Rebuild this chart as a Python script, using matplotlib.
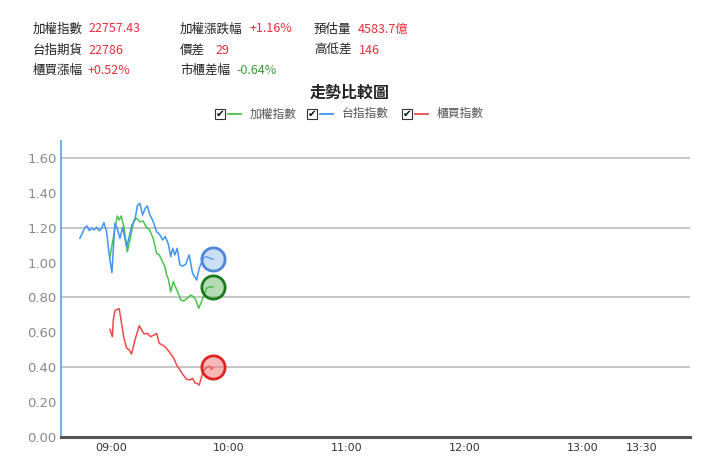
import matplotlib
matplotlib.use("Agg")
import matplotlib.pyplot as plt
from matplotlib.patches import Rectangle
from matplotlib.lines import Line2D

plt.rcParams['font.family'] = ['Noto Sans CJK TC', 'DejaVu Sans']

# ---------------- data ----------------
# minutes from 09:00
blue_t = [-15.8, -13.2, -12.1, -11.0, -9.8, -8.6, -7.3, -5.9, -4.7, -3.6, -2.2, -0.9, 0.5, 2.0, 3.2,
          4.6, 5.9, 8.0, 9.3, 10.7, 12.2, 13.4, 14.7, 16.1, 17.4, 18.5, 19.8, 21.2, 23.2, 24.6,
          26.3, 27.6, 29.1, 30.4, 31.4, 32.5, 33.7, 35.1, 36.5, 38.1, 39.8, 41.5, 43.6, 44.9,
          46.9, 48.7, 50.3, 52.0]
blue_v = [1.139, 1.202, 1.21, 1.183, 1.197, 1.187, 1.202, 1.183, 1.197, 1.229, 1.177, 1.044, 0.942,
          1.225, 1.197, 1.139, 1.202, 1.091, 1.149, 1.216, 1.244, 1.325, 1.34, 1.273, 1.311, 1.325,
          1.273, 1.244, 1.177, 1.164, 1.13, 1.149, 1.11, 1.034, 1.082, 1.044, 1.082, 0.986, 0.98,
          0.992, 1.044, 0.939, 0.90, 0.967, 1.025, 1.034, 1.025, 1.02]

green_t = [-0.5, 3.2, 4.2, 5.2, 6.6, 8.3, 10.0, 11.7, 13.1, 14.7, 16.4, 18.2, 19.5, 21.5, 23.2,
           24.6, 25.8, 27.5, 28.3, 29.1, 30.4, 31.7, 33.1, 34.2, 35.4, 37.1, 38.8, 40.5, 41.9,
           43.2, 44.6, 46.1, 47.3, 48.7, 50.3, 52.0]
green_v = [1.034, 1.267, 1.244, 1.267, 1.206, 1.062, 1.149, 1.244, 1.254, 1.234, 1.238, 1.197,
           1.191, 1.139, 1.053, 1.044, 1.015, 0.977, 0.929, 0.91, 0.833, 0.891, 0.853, 0.824,
           0.786, 0.78, 0.795, 0.814, 0.805, 0.786, 0.738, 0.776, 0.814, 0.853, 0.862, 0.86]

red_t = [-0.5, 0.7, 1.2, 2.0, 3.2, 4.2, 5.4, 6.6, 8.0, 9.3, 10.5, 12.2, 14.4, 15.6, 16.8, 18.5,
         20.2, 21.9, 23.2, 24.6, 27.5, 29.6, 32.0, 33.4, 35.1, 36.8, 38.5, 40.2, 41.5, 42.7,
         43.9, 44.9, 46.1, 47.3, 49.0, 50.0, 51.2, 52.0]
red_v = [0.617, 0.575, 0.671, 0.724, 0.732, 0.736, 0.652, 0.566, 0.509, 0.499, 0.476, 0.556,
         0.638, 0.614, 0.591, 0.594, 0.575, 0.585, 0.594, 0.537, 0.518, 0.489, 0.451, 0.413,
         0.384, 0.355, 0.331, 0.327, 0.337, 0.311, 0.307, 0.298, 0.346, 0.384, 0.40, 0.407,
         0.388, 0.40]

xtick_pos = [0, 60, 120, 180, 240, 270]
xtick_labels = ["09:00", "10:00", "11:00", "12:00", "13:00", "13:30"]
ytick_vals = [0.0, 0.2, 0.4, 0.6, 0.8, 1.0, 1.2, 1.4, 1.6]
grid_vals = [0.4, 0.8, 1.2, 1.6]

series_names = ["加權指數", "台指指數", "櫃買指數"]

header_rows = [
    [("加權指數", "22757.43", "#e8303a"), ("加權漲跌幅", "+1.16%", "#e8303a"), ("預估量", "4583.7億", "#e8303a")],
    [("台指期貨", "22786", "#e8303a"), ("價差", "29", "#e8303a"), ("高低差", "146", "#e8303a")],
    [("櫃買漲幅", "+0.52%", "#e8303a"), ("市櫃差幅", "-0.64%", "#3a9a3a"), None],
]
title_text = "走勢比較圖"

# ---------------- figure ----------------
W, H = 720, 476
fig = plt.figure(figsize=(7.2, 4.76), dpi=100)
fig.patch.set_facecolor("white")

def fx(px):
    return px / W

def fy(py):
    return 1 - py / H

ax = fig.add_axes([fx(61), fy(437), fx(690) - fx(61), fy(140.5) - fy(437)])
ax.set_xlim(-25.4, 294.5)
ax.set_ylim(0, 1.70)

for v in grid_vals:
    ax.axhline(v, color="#bdbdbd", lw=1.2, zorder=1)

c_green, c_blue, c_red = "#4cc44c", "#3f95ef", "#f04848"
ax.plot(green_t, green_v, color=c_green, lw=1.1, zorder=3)
ax.plot(blue_t, blue_v, color=c_blue, lw=1.1, zorder=3)
ax.plot(red_t, red_v, color=c_red, lw=1.1, zorder=3)

ax.scatter([blue_t[-1]], [blue_v[-1]], s=280, facecolor=(0.55, 0.72, 0.92, 0.45),
           edgecolor="#4f86d6", linewidth=2.0, zorder=4)
ax.scatter([green_t[-1]], [green_v[-1]], s=280, facecolor=(0.35, 0.70, 0.35, 0.45),
           edgecolor="#1b7a1b", linewidth=2.0, zorder=4)
ax.scatter([red_t[-1]], [red_v[-1]], s=280, facecolor=(0.95, 0.45, 0.45, 0.5),
           edgecolor="#e02424", linewidth=2.0, zorder=4)

for s in ["top", "right"]:
    ax.spines[s].set_visible(False)
ax.spines["left"].set_color("#6aaee8")
ax.spines["left"].set_linewidth(1.4)
ax.spines["bottom"].set_color("#555555")
ax.spines["bottom"].set_linewidth(2.2)

ax.set_yticks(ytick_vals)
ax.set_yticklabels([f"{v:.2f}" for v in ytick_vals], color="#8a8a8a", fontsize=9.5,
                   family=["DejaVu Sans"])
ax.set_xticks(xtick_pos)
ax.set_xticklabels(xtick_labels, color="#333333", fontsize=8, family=["DejaVu Sans"])
ax.tick_params(axis="both", length=0, pad=4)
ax.tick_params(axis="y", pad=3)

# ---------------- header ----------------
row_y = [29, 50, 70]
label_x = [33, 180, 314]
value_x = [[88, 250, 358], [88, 215, 359], [88, 236, None]]
for r, row in enumerate(header_rows):
    for c, item in enumerate(row):
        if item is None:
            continue
        lab, val, col = item
        fig.text(fx(label_x[c]), fy(row_y[r]), lab, fontsize=9, color="#222222",
                 ha="left", va="center")
        fig.text(fx(value_x[r][c]), fy(row_y[r]), val, fontsize=9, color=col,
                 ha="left", va="center")

fig.text(fx(350), fy(93), title_text, fontsize=11.5, color="#222222", ha="center", va="center",
         fontweight="bold")

# legend with checkboxes
leg_y = 114
leg_items = [(215, c_green, series_names[0]), (307, c_blue, series_names[1]),
             (402, c_red, series_names[2])]
for x0, col, name in leg_items:
    box = Rectangle((fx(x0), fy(leg_y + 5)), fx(10), 10 / H, transform=fig.transFigure,
                    facecolor="white", edgecolor="#333333", lw=0.8)
    fig.add_artist(box)
    fig.text(fx(x0 + 5), fy(leg_y), "✔", fontsize=7.5, color="#111111", ha="center",
             va="center", family=["DejaVu Sans"])
    fig.add_artist(Line2D([fx(x0 + 13), fx(x0 + 26)], [fy(leg_y), fy(leg_y)],
                          transform=fig.transFigure, color=col, lw=1.3))
    fig.text(fx(x0 + 35), fy(leg_y), name, fontsize=8.5, color="#555555", ha="left",
             va="center")

fig.savefig("out.png", dpi=100, facecolor="white")
